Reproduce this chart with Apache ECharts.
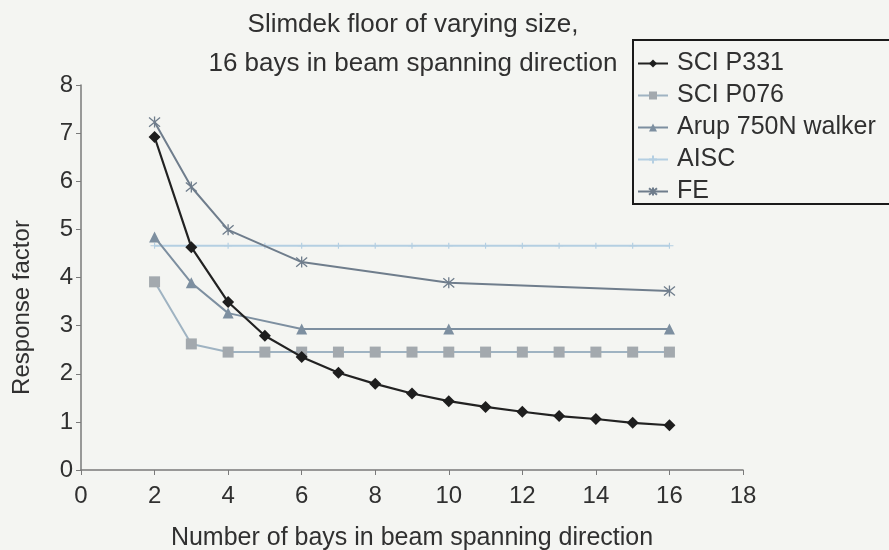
<!DOCTYPE html>
<html>
<head>
<meta charset="utf-8">
<script src="https://cdn.jsdelivr.net/npm/echarts@6/dist/echarts.min.js"></script>
<style>
  html, body { margin: 0; padding: 0; background: #f4f5f2; }
  #chart { width: 889px; height: 550px; }
</style>
</head>
<body>
<div id="chart"></div>
<script>
// Number of bays in the beam spanning direction
const baysP331 = [2, 3, 4, 5, 6, 7, 8, 9, 10, 11, 12, 13, 14, 15, 16];
const valuesP331 = [6.92, 4.63, 3.49, 2.79, 2.35, 2.02, 1.79, 1.59, 1.43, 1.31, 1.21, 1.12, 1.06, 0.98, 0.93];

const baysP076 = [2, 3, 4, 5, 6, 7, 8, 9, 10, 11, 12, 13, 14, 15, 16];
const valuesP076 = [3.91, 2.62, 2.45, 2.45, 2.45, 2.45, 2.45, 2.45, 2.45, 2.45, 2.45, 2.45, 2.45, 2.45, 2.45];

const baysArup = [2, 3, 4, 6, 10, 16];
const valuesArup = [4.84, 3.89, 3.26, 2.93, 2.93, 2.93];

const baysAISC = [2, 3, 4, 5, 6, 7, 8, 9, 10, 11, 12, 13, 14, 15, 16];
const valuesAISC = [4.66, 4.66, 4.66, 4.66, 4.66, 4.66, 4.66, 4.66, 4.66, 4.66, 4.66, 4.66, 4.66, 4.66, 4.66];

const baysFE = [2, 3, 4, 6, 10, 16];
const valuesFE = [7.23, 5.88, 4.99, 4.32, 3.89, 3.72];

const xTicks = { min: 0, max: 18, step: 2 };
const yTicks = { min: 0, max: 8, step: 1 };

const pairs = (xs, ys) => xs.map((x, i) => [x, ys[i]]);

const FONT = '"Liberation Sans", Arial, sans-serif';
const TEXT = '#303030';
const ASTERISK = 'path://M0,0L10,10M10,0L0,10M5,-1L5,11';
const PLUS = 'path://M0,5L10,5M5,2L5,8';

const chart = echarts.init(document.getElementById('chart'), null, { renderer: 'canvas' });

chart.setOption({
  backgroundColor: '#f4f5f2',
  animation: false,
  textStyle: { fontFamily: FONT, color: TEXT },
  title: {
    text: 'Slimdek floor of varying size,\n16 bays in beam spanning direction',
    left: 408,
    top: 0,
    textAlign: 'center',
    textStyle: { fontFamily: FONT, fontSize: 26, fontWeight: 'normal', color: TEXT, lineHeight: 39 }
  },
  legend: {
    orient: 'vertical',
    left: 633,
    top: 40,
    padding: [11, 60, 0, 4],
    itemGap: 7,
    itemWidth: 30,
    itemHeight: 10,
    borderColor: '#1a1a1a',
    borderWidth: 2,
    backgroundColor: '#f4f5f2',
    textStyle: { fontFamily: FONT, fontSize: 25, color: TEXT, padding: [0, 0, 0, 4] },
    data: ['SCI P331', 'SCI P076', 'Arup 750N walker', 'AISC', 'FE']
  },
  grid: { left: 81, right: 146, top: 85, bottom: 80, containLabel: false, outerBoundsMode: 'none' },
  xAxis: {
    type: 'value',
    min: xTicks.min,
    max: xTicks.max,
    interval: xTicks.step,
    name: 'Number of bays in beam spanning direction',
    nameLocation: 'middle',
    nameGap: 56,
    nameTextStyle: { fontFamily: FONT, fontSize: 25, color: TEXT },
    axisLine: { lineStyle: { color: '#7a7a7a', width: 1.5 } },
    axisTick: { show: true, length: 5, lineStyle: { color: '#7a7a7a' } },
    axisLabel: { fontFamily: FONT, fontSize: 24, color: TEXT, margin: 14 },
    splitLine: { show: false }
  },
  yAxis: {
    type: 'value',
    min: yTicks.min,
    max: yTicks.max,
    interval: yTicks.step,
    name: 'Response factor',
    nameLocation: 'middle',
    nameGap: 47,
    nameRotate: 90,
    nameTextStyle: { fontFamily: FONT, fontSize: 24, color: TEXT, padding: [0, 60, 0, 0] },
    axisLine: { show: true, lineStyle: { color: '#7a7a7a', width: 1.5 } },
    axisTick: { show: true, length: 5, lineStyle: { color: '#7a7a7a' } },
    axisLabel: { fontFamily: FONT, fontSize: 24, color: TEXT, margin: 8 },
    splitLine: { show: false }
  },
  series: [
    {
      name: 'AISC',
      type: 'line',
      data: pairs(baysAISC, valuesAISC),
      symbol: PLUS,
      symbolSize: [8, 6],
      z: 1,
      lineStyle: { color: '#b4cfe2', width: 2 },
      itemStyle: { color: 'transparent', borderColor: '#b4cfe2', borderWidth: 1 }
    },
    {
      name: 'FE',
      type: 'line',
      data: pairs(baysFE, valuesFE),
      symbol: ASTERISK,
      symbolSize: 11,
      lineStyle: { color: '#6f7d8c', width: 2 },
      itemStyle: { color: 'transparent', borderColor: '#6f7d8c', borderWidth: 1.3 }
    },
    {
      name: 'Arup 750N walker',
      type: 'line',
      data: pairs(baysArup, valuesArup),
      symbol: 'triangle',
      symbolSize: 11,
      lineStyle: { color: '#7d8fa0', width: 2 },
      itemStyle: { color: '#7d8fa0' }
    },
    {
      name: 'SCI P076',
      type: 'line',
      data: pairs(baysP076, valuesP076),
      symbol: 'rect',
      symbolSize: 11,
      lineStyle: { color: '#9fb3c2', width: 2 },
      itemStyle: { color: '#a3a9ae' }
    },
    {
      name: 'SCI P331',
      type: 'line',
      data: pairs(baysP331, valuesP331),
      symbol: 'diamond',
      symbolSize: 12,
      z: 5,
      lineStyle: { color: '#222222', width: 2.2 },
      itemStyle: { color: '#1e1e1e' }
    }
  ]
});
</script>
</body>
</html>
